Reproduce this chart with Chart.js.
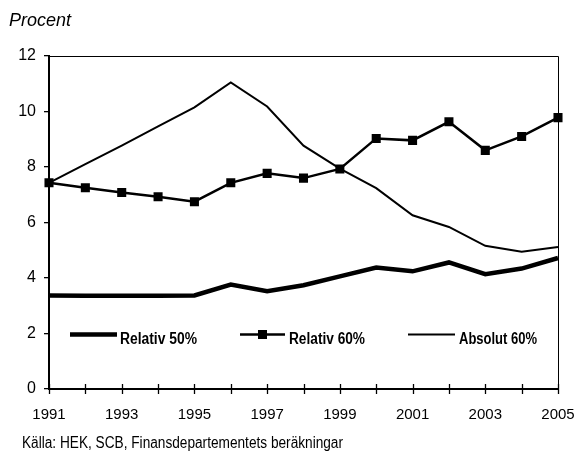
<!DOCTYPE html>
<html>
<head>
<meta charset="utf-8">
<script src="https://cdn.jsdelivr.net/npm/chart.js@4"></script>
<style>
html,body{margin:0;padding:0;background:#fff;}
#wrap{width:574px;height:453px;position:relative;}
</style>
</head>
<body>
<div id="wrap"><canvas id="c" width="574" height="453"></canvas></div>
<script>
const years = ['1991','1992','1993','1994','1995','1996','1997','1998','1999','2000','2001','2002','2003','2004','2005'];
const relativ50 = [3.37,3.36,3.36,3.36,3.37,3.76,3.52,3.74,4.06,4.38,4.24,4.56,4.14,4.34,4.72];
const relativ60 = [7.43,7.25,7.08,6.93,6.75,7.43,7.77,7.60,7.93,9.03,8.96,9.63,8.60,9.10,9.78];
const absolut60 = [7.43,8.10,8.77,9.46,10.15,11.05,10.18,8.77,7.94,7.24,6.26,5.84,5.16,4.95,5.12];
const seriesNames = ['Relativ 50%','Relativ 60%','Absolut 60%'];
const yTicks = [0,2,4,6,8,10,12];
const titleText = 'Procent';
const sourceText = 'Källa: HEK, SCB, Finansdepartementets beräkningar';

const FONT = "'Liberation Sans',Arial,sans-serif";

function fitText(ctx, text, x, y, w) {
  const m = ctx.measureText(text).width;
  const s = w / m;
  ctx.save();
  ctx.translate(x, y);
  ctx.scale(s, 1);
  ctx.fillText(text, 0, 0);
  ctx.restore();
}

const decor = {
  id: 'decor',
  afterDraw(chart) {
    const ctx = chart.ctx;
    const a = chart.chartArea;
    const xs = chart.scales.x;
    const ys = chart.scales.y;
    ctx.save();
    ctx.strokeStyle = '#000';
    ctx.fillStyle = '#000';
    ctx.lineWidth = 1;
    ctx.beginPath();
    ctx.moveTo(a.left, a.top + 0.5);
    ctx.lineTo(a.right + 0.5, a.top + 0.5);
    ctx.lineTo(a.right + 0.5, a.bottom);
    ctx.stroke();
    ctx.lineWidth = 1.3;
    years.forEach((y, i) => {
      const px = Math.round(xs.getPixelForValue(i)) + 0.5;
      ctx.beginPath();
      ctx.moveTo(px, a.bottom - 5);
      ctx.lineTo(px, a.bottom + 5);
      ctx.stroke();
    });
    // legend
    const ly = ys.getPixelForValue(2) + 1;
    ctx.font = "bold 16px " + FONT;
    ctx.textBaseline = 'alphabetic';
    const items = [
      {x0: a.left + 21, w: 47, lw: 4.5, marker: false, tx: 120, tw: 77},
      {x0: a.left + 191, w: 45, lw: 2.5, marker: true, tx: 289, tw: 76},
      {x0: a.left + 359, w: 47, lw: 2, marker: false, tx: 459, tw: 78}
    ];
    items.forEach((it, k) => {
      ctx.lineWidth = it.lw;
      ctx.lineCap = 'butt';
      ctx.beginPath();
      ctx.moveTo(it.x0, ly);
      ctx.lineTo(it.x0 + it.w, ly);
      ctx.stroke();
      if (it.marker) {
        ctx.fillRect(it.x0 + it.w / 2 - 4.5, ly - 4.5, 9, 9);
      }
      fitText(ctx, seriesNames[k], it.tx, ly + 9, it.tw);
    });
    // title
    ctx.font = "italic 18px " + FONT;
    ctx.fillText(titleText, 9, 26);
    // source
    ctx.font = "16px " + FONT;
    fitText(ctx, sourceText, 22, 448, 321);
    ctx.restore();
  }
};

new Chart(document.getElementById('c'), {
  type: 'line',
  data: {
    labels: years,
    datasets: [
      {label: seriesNames[0], data: relativ50, borderColor: '#000', borderWidth: 4.5, pointRadius: 0, tension: 0},
      {label: seriesNames[1], data: relativ60, borderColor: '#000', backgroundColor: '#000', borderWidth: 2.5, pointStyle: 'rect', pointRadius: 6.4, pointBorderWidth: 0, pointBackgroundColor: '#000', tension: 0},
      {label: seriesNames[2], data: absolut60, borderColor: '#000', borderWidth: 2, pointRadius: 0, tension: 0}
    ]
  },
  options: {
    responsive: false,
    animation: false,
    events: [],
    layout: {padding: {top: 56, right: 16, left: 0, bottom: 0}},
    plugins: {legend: {display: false}, tooltip: {enabled: false}, title: {display: false}},
    scales: {
      x: {
        type: 'category',
        offset: false,
        afterFit(s) { s.height = 64; s.paddingLeft = 0; s.paddingRight = 0; },
        grid: {display: true, drawOnChartArea: false, drawTicks: false},
        border: {display: true, color: '#000', width: 2},
        ticks: {
          autoSkip: false, maxRotation: 0, minRotation: 0, padding: 17,
          color: '#000', font: {family: FONT, size: 15},
          callback(v, i) { return i % 2 === 0 ? years[i] : ''; }
        }
      },
      y: {
        min: 0, max: 12,
        afterFit(s) { s.width = 49; s.paddingTop = 0; s.paddingBottom = 0; },
        afterBuildTicks(s) { s.ticks = yTicks.map(v => ({value: v})); },
        grid: {display: true, drawOnChartArea: false, drawTicks: true, tickLength: 5, color: '#000', lineWidth: 1.3},
        border: {display: true, color: '#000', width: 2},
        ticks: {padding: 8, color: '#000', font: {family: FONT, size: 16}}
      }
    }
  },
  plugins: [decor]
});
</script>
</body>
</html>
